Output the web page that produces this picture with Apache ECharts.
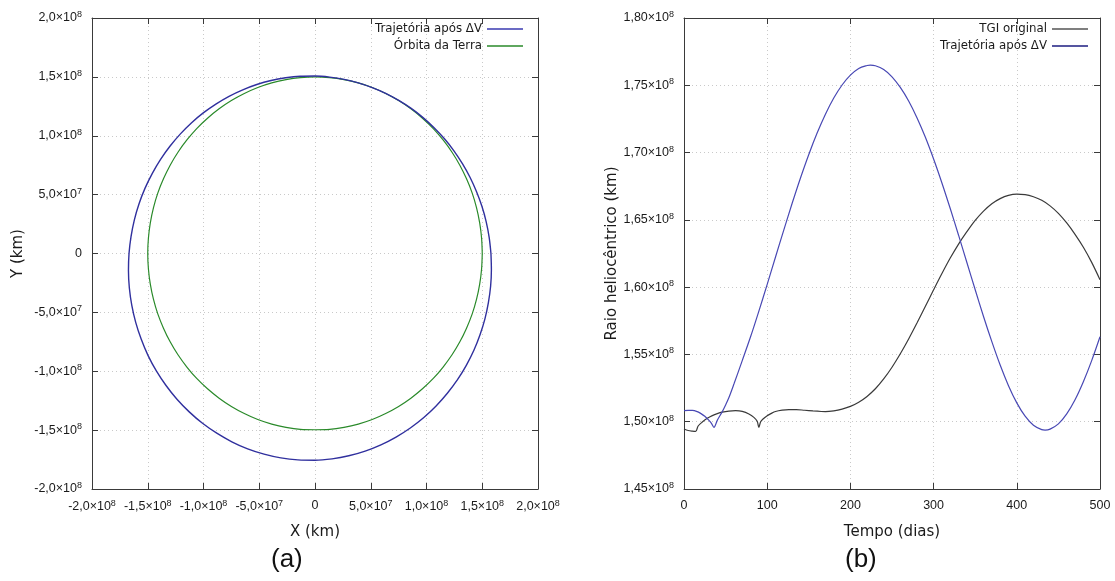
<!DOCTYPE html>
<html>
<head>
<meta charset="utf-8">
<script src="https://cdn.jsdelivr.net/npm/echarts@6/dist/echarts.min.js"></script>
<style>
html,body{margin:0;padding:0;background:#fff;}
#chart{width:1115px;height:581px;}
</style>
</head>
<body>
<div id="chart"></div>
<script>
// ---------- Panel (a): orbits in the XY plane (units of 1e8 km) ----------
const trajX = [1.578, 1.562, 1.535, 1.497, 1.448, 1.390, 1.322, 1.246, 1.161, 1.068, 0.969, 0.863,
  0.751, 0.634, 0.513, 0.388, 0.261, 0.131, 0.000,
  -0.132, -0.263, -0.394, -0.522, -0.648, -0.771, -0.889, -1.002, -1.109, -1.209, -1.301, -1.385,
  -1.459, -1.524, -1.578, -1.620, -1.650, -1.668,
  -1.673, -1.665, -1.643, -1.608, -1.559, -1.498, -1.423, -1.336, -1.238, -1.128, -1.009, -0.881,
  -0.746, -0.604, -0.457, -0.306, -0.153, 0.000,
  0.153, 0.303, 0.450, 0.591, 0.727, 0.855, 0.976, 1.086, 1.187, 1.278, 1.357, 1.425,
  1.480, 1.524, 1.555, 1.575, 1.582, 1.578];
const trajY = [0.000, 0.137, 0.271, 0.401, 0.527, 0.648, 0.763, 0.872, 0.974, 1.068, 1.154, 1.232,
  1.300, 1.360, 1.409, 1.449, 1.479, 1.498, 1.507,
  1.505, 1.492, 1.469, 1.435, 1.390, 1.335, 1.269, 1.194, 1.109, 1.014, 0.911, 0.800,
  0.681, 0.555, 0.423, 0.286, 0.144, 0.000,
  -0.146, -0.293, -0.440, -0.585, -0.727, -0.865, -0.997, -1.121, -1.238, -1.345, -1.442, -1.526,
  -1.599, -1.659, -1.704, -1.736, -1.753, -1.756,
  -1.744, -1.718, -1.678, -1.625, -1.559, -1.482, -1.393, -1.295, -1.187, -1.072, -0.950, -0.822,
  -0.690, -0.555, -0.417, -0.278, -0.139, 0.000];
const earthX = [1.500, 1.494, 1.477, 1.449, 1.410, 1.359, 1.299, 1.229, 1.149, 1.061, 0.964, 0.860,
  0.750, 0.634, 0.513, 0.388, 0.260, 0.131, 0.000,
  -0.131, -0.260, -0.388, -0.513, -0.634, -0.750, -0.860, -0.964, -1.061, -1.149, -1.229, -1.299,
  -1.359, -1.410, -1.449, -1.477, -1.494, -1.500,
  -1.494, -1.477, -1.449, -1.410, -1.359, -1.299, -1.229, -1.149, -1.061, -0.964, -0.860, -0.750,
  -0.634, -0.513, -0.388, -0.260, -0.131, 0.000,
  0.131, 0.260, 0.388, 0.513, 0.634, 0.750, 0.860, 0.964, 1.061, 1.149, 1.229, 1.299,
  1.359, 1.410, 1.449, 1.477, 1.494, 1.500];
const earthY = [0.000, 0.131, 0.260, 0.388, 0.513, 0.634, 0.750, 0.860, 0.964, 1.061, 1.149, 1.229,
  1.299, 1.359, 1.410, 1.449, 1.477, 1.494, 1.500,
  1.494, 1.477, 1.449, 1.410, 1.359, 1.299, 1.229, 1.149, 1.061, 0.964, 0.860, 0.750,
  0.634, 0.513, 0.388, 0.260, 0.131, 0.000,
  -0.131, -0.260, -0.388, -0.513, -0.634, -0.750, -0.860, -0.964, -1.061, -1.149, -1.229, -1.299,
  -1.359, -1.410, -1.449, -1.477, -1.494, -1.497,
  -1.494, -1.477, -1.449, -1.410, -1.359, -1.299, -1.229, -1.149, -1.061, -0.964, -0.860, -0.750,
  -0.634, -0.513, -0.388, -0.260, -0.131, 0.000];

const aTickValues = [-2, -1.5, -1, -0.5, 0, 0.5, 1, 1.5, 2];
const aTickLabels = ['-2,0×10^8', '-1,5×10^8', '-1,0×10^8', '-5,0×10^7', '0',
  '5,0×10^7', '1,0×10^8', '1,5×10^8', '2,0×10^8'];

// ---------- Panel (b): heliocentric radius vs time (units of 1e8 km) ----------
const trajT = [0, 5, 10, 15, 20, 25, 30, 33, 36, 36, 40, 46, 50, 54, 60, 70, 80, 90, 100,
  110, 120, 130, 140, 150, 160, 170, 180, 190, 200, 210, 220, 224, 230, 240, 250, 260,
  270, 280, 290, 300, 310, 320, 330, 340, 350, 360, 370, 380, 390, 400, 410, 420, 430,
  434, 440, 450, 460, 470, 480, 490, 500];
const trajR = [1.5082, 1.5085, 1.5084, 1.5077, 1.5062, 1.5040, 1.5010, 1.4988, 1.4958, 1.4958,
  1.5010, 1.5075, 1.5125, 1.5180, 1.5280, 1.5454, 1.5631, 1.5822, 1.6021,
  1.6224, 1.6426, 1.6623, 1.6811, 1.6986, 1.7145, 1.7285, 1.7405, 1.7502, 1.7575, 1.7625,
  1.7647, 1.7650, 1.7645, 1.7617, 1.7563, 1.7484,
  1.7383, 1.7259, 1.7115, 1.6952, 1.6774, 1.6584, 1.6386, 1.6183, 1.5981, 1.5782, 1.5595,
  1.5421, 1.5268, 1.5140, 1.5041, 1.4974, 1.4941,
  1.4938, 1.4945, 1.4984, 1.5058, 1.5163, 1.5297, 1.5454, 1.5631];
const tgiT = [0, 5, 10, 14, 14, 17, 22, 28, 34, 40, 46, 54, 62, 70, 78, 84, 88, 90, 90, 92,
  95, 100, 105, 110, 118, 126, 135, 145, 155, 165, 170, 180, 190, 200, 210, 220, 230, 240,
  250, 260, 270, 280, 290, 300, 310, 320, 330, 340, 350, 360, 370, 380, 390, 400, 410,
  420, 430, 440, 450, 460, 470, 480, 490, 500];
const tgiR = [1.4946, 1.4935, 1.4930, 1.4928, 1.4928, 1.4968, 1.4998, 1.5025, 1.5045, 1.5060,
  1.5071, 1.5079, 1.5082, 1.5077, 1.5058, 1.5032, 1.5003, 1.4958, 1.4958, 1.4998,
  1.5020, 1.5044, 1.5062, 1.5076, 1.5086, 1.5090, 1.5090, 1.5085, 1.5080, 1.5076,
  1.5075, 1.5081, 1.5094, 1.5114, 1.5145, 1.5188, 1.5245, 1.5318,
  1.5405, 1.5505, 1.5615, 1.5733, 1.5856, 1.5980, 1.6101, 1.6216, 1.6320, 1.6412,
  1.6496, 1.6565, 1.6620, 1.6658, 1.6682, 1.6691, 1.6688,
  1.6672, 1.6645, 1.6604, 1.6548, 1.6477, 1.6392, 1.6296, 1.6184, 1.6055];

const bXTickValues = [0, 100, 200, 300, 400, 500];
const bXTickLabels = ['0', '100', '200', '300', '400', '500'];
const bYTickValues = [1.45, 1.50, 1.55, 1.60, 1.65, 1.70, 1.75, 1.80];
const bYTickLabels = ['1,45×10^8', '1,50×10^8', '1,55×10^8', '1,60×10^8', '1,65×10^8',
  '1,70×10^8', '1,75×10^8', '1,80×10^8'];

const seriesNames = ['Trajetória após ΔV', 'Órbita da Terra', 'TGI original'];

// ---------- helpers ----------
const FONT = '"Liberation Sans", Arial, sans-serif';
const FONT2 = '"DejaVu Sans", Verdana, sans-serif';
const AXIS_COLOR = '#3a3a3a';
function zip(a, b) { return a.map((v, i) => [v, b[i]]); }
function sup(s) {
  const p = s.split('^');
  return p.length > 1 ? '{m|' + p[0] + '}{e|' + p[1] + '}' : '{m|' + p[0] + '}';
}
function makeFormatter(vals, labels) {
  return function (v) {
    const i = vals.findIndex(t => Math.abs(t - v) < 1e-6);
    return i >= 0 ? sup(labels[i]) : '';
  };
}
const rich = {
  m: { fontFamily: FONT, fontSize: 12.5, color: '#1a1a1a' },
  e: { fontFamily: FONT, fontSize: 9, color: '#1a1a1a', padding: [0, 0, 7, 0] }
};
function axisBase(extra) {
  return Object.assign({
    type: 'value',
    axisLine: { show: true, onZero: false, lineStyle: { color: AXIS_COLOR, width: 1 } },
    axisTick: { show: true, inside: true, length: 6, lineStyle: { color: AXIS_COLOR } },
    splitLine: { show: false },
    nameTextStyle: { fontFamily: FONT2, fontSize: 15, color: '#1a1a1a' }
  }, extra);
}
const dotted = { show: true, lineStyle: { color: '#c9c9c9', type: [1, 3], width: 1 } };

function labelCfg(vals, labels, margin) {
  return { show: true, margin: margin, formatter: makeFormatter(vals, labels), rich: rich };
}

const chart = echarts.init(document.getElementById('chart'), null, { renderer: 'canvas' });

const legendCommon = {
  orient: 'vertical', align: 'right', icon: 'rect', itemWidth: 36, itemHeight: 1.5,
  selectedMode: false, padding: 0,
  textStyle: { fontFamily: FONT2, fontSize: 11.8, color: '#1a1a1a' }
};

const option = {
  animation: false,
  backgroundColor: '#ffffff',
  grid: [
    { left: 92, top: 18, width: 446, height: 471 },
    { left: 684, top: 18, width: 416, height: 471 }
  ],
  xAxis: [
    axisBase({ gridIndex: 0, position: 'bottom', min: -2, max: 2, interval: 0.5,
      name: 'X (km)', nameLocation: 'middle', nameGap: 36,
      axisLabel: labelCfg(aTickValues, aTickLabels, 10), splitLine: dotted }),
    axisBase({ gridIndex: 0, position: 'top', min: -2, max: 2, interval: 0.5,
      axisLabel: { show: false } }),
    axisBase({ gridIndex: 1, position: 'bottom', min: 0, max: 500, interval: 100,
      name: 'Tempo (dias)', nameLocation: 'middle', nameGap: 36,
      axisLabel: labelCfg(bXTickValues, bXTickLabels, 10), splitLine: dotted }),
    axisBase({ gridIndex: 1, position: 'top', min: 0, max: 500, interval: 100,
      axisLabel: { show: false } })
  ],
  yAxis: [
    axisBase({ gridIndex: 0, position: 'left', min: -2, max: 2, interval: 0.5,
      name: 'Y (km)', nameLocation: 'middle', nameGap: 66,
      axisLabel: labelCfg(aTickValues, aTickLabels, 10), splitLine: dotted }),
    axisBase({ gridIndex: 0, position: 'right', min: -2, max: 2, interval: 0.5,
      axisLabel: { show: false } }),
    axisBase({ gridIndex: 1, position: 'left', min: 1.45, max: 1.80, interval: 0.05,
      name: 'Raio heliocêntrico (km)', nameLocation: 'middle', nameGap: 62,
      axisLabel: labelCfg(bYTickValues, bYTickLabels, 10), splitLine: dotted }),
    axisBase({ gridIndex: 1, position: 'right', min: 1.45, max: 1.80, interval: 0.05,
      axisLabel: { show: false } })
  ],
  legend: [
    Object.assign({}, legendCommon, { right: 592, top: 23,
      data: [{ name: seriesNames[0], itemStyle: { color: '#3a3ab0' } }] }),
    Object.assign({}, legendCommon, { right: 592, top: 40,
      data: [{ name: seriesNames[1], itemStyle: { color: '#2a8a2a' } }] }),
    Object.assign({}, legendCommon, { right: 27, top: 23,
      data: [{ name: seriesNames[2], itemStyle: { color: '#555555' } }] }),
    Object.assign({}, legendCommon, { right: 27, top: 40,
      data: [{ name: seriesNames[0], itemStyle: { color: '#1c1c80' } }] })
  ],
  graphic: [
    { type: 'text', left: 271, top: 547, style: { text: '(a)', font: '26px ' + FONT, fill: '#111' } },
    { type: 'text', left: 845, top: 547, style: { text: '(b)', font: '26px ' + FONT, fill: '#111' } }
  ],
  series: [
    { type: 'line', name: seriesNames[1], xAxisIndex: 0, yAxisIndex: 0,
      data: zip(earthX, earthY), smooth: 0.33, showSymbol: false, symbol: 'none',
      lineStyle: { color: '#2a8a2a', width: 1.2 }, itemStyle: { color: '#2a8a2a' } },
    { type: 'line', name: seriesNames[0], xAxisIndex: 0, yAxisIndex: 0,
      data: zip(trajX, trajY), smooth: 0.33, showSymbol: false, symbol: 'none',
      lineStyle: { color: '#30309e', width: 1.4 }, itemStyle: { color: '#30309e' } },
    { type: 'line', name: seriesNames[2], xAxisIndex: 2, yAxisIndex: 2,
      data: zip(tgiT, tgiR), smooth: 0.33, showSymbol: false, symbol: 'none',
      lineStyle: { color: '#3a3a3a', width: 1.2 }, itemStyle: { color: '#3a3a3a' } },
    { type: 'line', name: seriesNames[0], xAxisIndex: 2, yAxisIndex: 2,
      data: zip(trajT, trajR), smooth: 0.33, showSymbol: false, symbol: 'none',
      lineStyle: { color: '#4848b4', width: 1.2 }, itemStyle: { color: '#4848b4' } }
  ]
};
chart.setOption(option);
</script>
</body>
</html>
